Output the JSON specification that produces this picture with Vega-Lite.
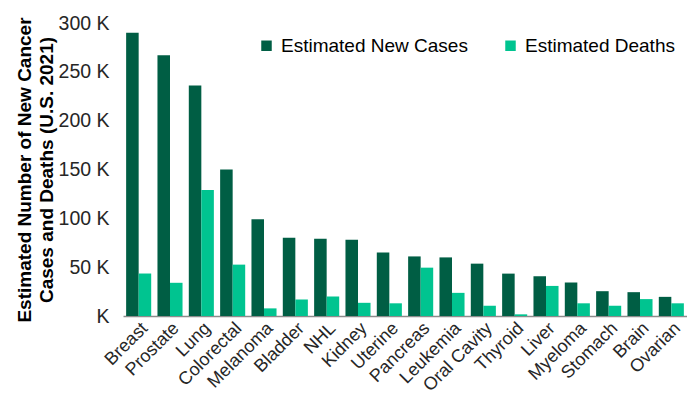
{
  "$schema": "https://vega.github.io/schema/vega-lite/v6.json",
  "autosize": "none",
  "width": 564,
  "height": 293,
  "padding": {"left": 123, "top": 23, "right": 0, "bottom": 80},
  "config": {
    "font": "Liberation Sans",
    "view": {"stroke": null},
    "axis": {"grid": false}
  },
  "data": {
    "values": [
      {"cancer": "Breast", "series": "Estimated New Cases", "value": 290000},
      {"cancer": "Breast", "series": "Estimated Deaths", "value": 43500},
      {"cancer": "Prostate", "series": "Estimated New Cases", "value": 267000},
      {"cancer": "Prostate", "series": "Estimated Deaths", "value": 34000},
      {"cancer": "Lung", "series": "Estimated New Cases", "value": 236000},
      {"cancer": "Lung", "series": "Estimated Deaths", "value": 129000},
      {"cancer": "Colorectal", "series": "Estimated New Cases", "value": 150000},
      {"cancer": "Colorectal", "series": "Estimated Deaths", "value": 52600},
      {"cancer": "Melanoma", "series": "Estimated New Cases", "value": 99000},
      {"cancer": "Melanoma", "series": "Estimated Deaths", "value": 7800},
      {"cancer": "Bladder", "series": "Estimated New Cases", "value": 80000},
      {"cancer": "Bladder", "series": "Estimated Deaths", "value": 17000},
      {"cancer": "NHL", "series": "Estimated New Cases", "value": 79000},
      {"cancer": "NHL", "series": "Estimated Deaths", "value": 20000},
      {"cancer": "Kidney", "series": "Estimated New Cases", "value": 78000},
      {"cancer": "Kidney", "series": "Estimated Deaths", "value": 13500},
      {"cancer": "Uterine", "series": "Estimated New Cases", "value": 65000},
      {"cancer": "Uterine", "series": "Estimated Deaths", "value": 13000},
      {"cancer": "Pancreas", "series": "Estimated New Cases", "value": 61000},
      {"cancer": "Pancreas", "series": "Estimated Deaths", "value": 49500},
      {"cancer": "Leukemia", "series": "Estimated New Cases", "value": 60000},
      {"cancer": "Leukemia", "series": "Estimated Deaths", "value": 23700},
      {"cancer": "Oral Cavity", "series": "Estimated New Cases", "value": 53600},
      {"cancer": "Oral Cavity", "series": "Estimated Deaths", "value": 10500},
      {"cancer": "Thyroid", "series": "Estimated New Cases", "value": 43400},
      {"cancer": "Thyroid", "series": "Estimated Deaths", "value": 1700},
      {"cancer": "Liver", "series": "Estimated New Cases", "value": 40700},
      {"cancer": "Liver", "series": "Estimated Deaths", "value": 30800},
      {"cancer": "Myeloma", "series": "Estimated New Cases", "value": 34300},
      {"cancer": "Myeloma", "series": "Estimated Deaths", "value": 13000},
      {"cancer": "Stomach", "series": "Estimated New Cases", "value": 25400},
      {"cancer": "Stomach", "series": "Estimated Deaths", "value": 10500},
      {"cancer": "Brain", "series": "Estimated New Cases", "value": 24400},
      {"cancer": "Brain", "series": "Estimated Deaths", "value": 17300},
      {"cancer": "Ovarian", "series": "Estimated New Cases", "value": 19600},
      {"cancer": "Ovarian", "series": "Estimated Deaths", "value": 13000}
    ]
  },
  "mark": {"type": "bar"},
  "encoding": {
    "x": {
      "field": "cancer",
      "type": "nominal",
      "sort": null,
      "scale": {"paddingInner": 0.2, "paddingOuter": 0.1},
      "axis": {
        "title": null,
        "labelAngle": -45,
        "labelFontSize": 18,
        "labelColor": "#262626",
        "labelPadding": 3,
        "labelOverlap": false,
        "ticks": false,
        "domainColor": "#8c8c8c",
        "domainWidth": 1.5
      }
    },
    "xOffset": {"field": "series", "type": "nominal", "sort": ["Estimated New Cases", "Estimated Deaths"]},
    "y": {
      "field": "value",
      "type": "quantitative",
      "scale": {"domain": [0, 300000]},
      "axis": {
        "values": [0, 50000, 100000, 150000, 200000, 250000, 300000],
        "labelExpr": "datum.value == 0 ? 'K' : (datum.value / 1000) + ' K'",
        "labelFontSize": 19.5,
        "labelColor": "#262626",
        "labelPadding": 14,
        "ticks": false,
        "domain": false,
        "title": ["Estimated Number of New Cancer", "Cases and Deaths (U.S. 2021)"],
        "titleFontSize": 19,
        "titleFontWeight": "bold",
        "titleColor": "#000000",
        "titleLineHeight": 22,
        "titlePadding": 2
      }
    },
    "color": {
      "field": "series",
      "type": "nominal",
      "sort": ["Estimated New Cases", "Estimated Deaths"],
      "scale": {"domain": ["Estimated New Cases", "Estimated Deaths"], "range": ["#005e44", "#00c490"]},
      "legend": {
        "title": null,
        "orient": "none",
        "direction": "horizontal",
        "legendX": 134,
        "legendY": 13,
        "symbolType": "square",
        "symbolSize": 110,
        "symbolStrokeWidth": 0,
        "labelFontSize": 19,
        "labelLimit": 300,
        "labelColor": "#000000",
        "labelOffset": 5,
        "columnPadding": 33
      }
    }
  }
}
